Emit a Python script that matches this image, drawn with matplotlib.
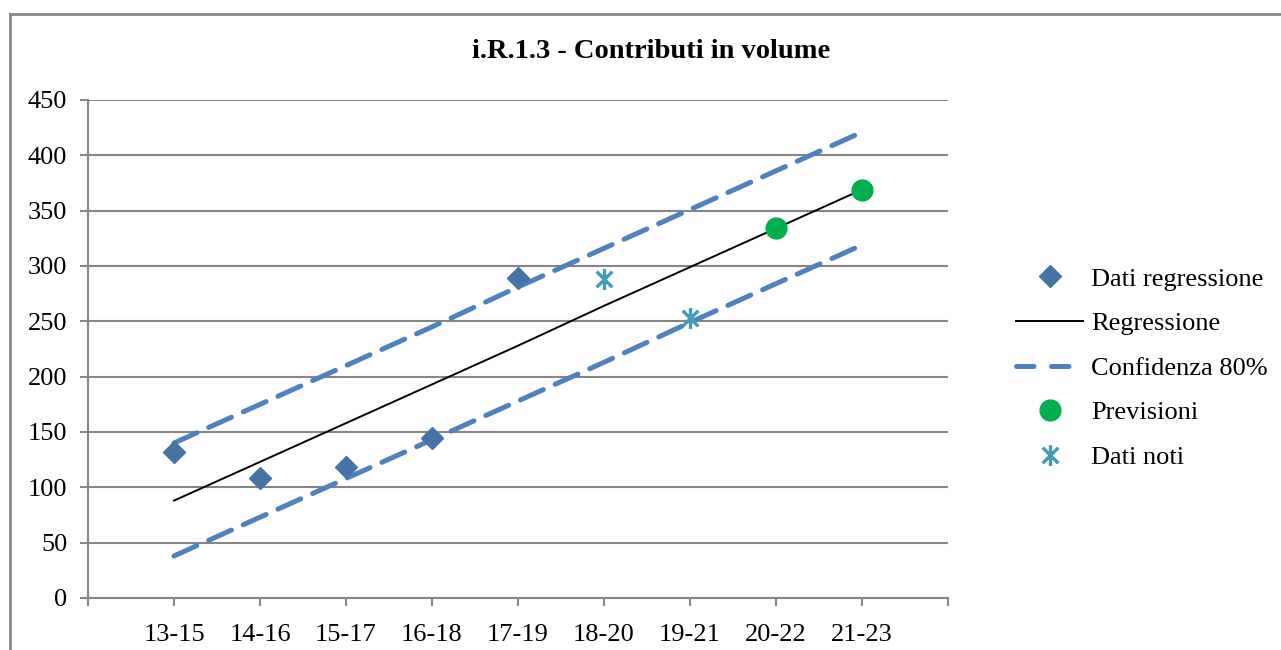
import matplotlib.pyplot as plt
from matplotlib.path import Path
from matplotlib.lines import Line2D
import numpy as np

plt.rcParams['font.family'] = ['Liberation Serif', 'DejaVu Serif']

periods = ['13-15', '14-16', '15-17', '16-18', '17-19', '18-20', '19-21', '20-22', '21-23']

# dati usati per la regressione (13-15 .. 17-19)
reg_data = [132, 108, 118, 145, 289]
regression = [88, 123, 158, 193, 228, 264, 299, 334, 369]
conf_high = [140, 175, 210, 245, 281, 316, 351, 386, 421]
conf_low = [38, 73, 108, 143, 178, 213, 249, 284, 319]
# previsioni (20-22, 21-23)
forecast = [334, 369]
# dati noti (18-20, 19-21)
known = [288, 253]

x = np.arange(1, len(periods) + 1)

# asterisco stile Excel: linea verticale + X
star = Path([(0, -1), (0, 1), (-0.75, -0.75), (0.75, 0.75), (-0.75, 0.75), (0.75, -0.75)],
            [Path.MOVETO, Path.LINETO, Path.MOVETO, Path.LINETO, Path.MOVETO, Path.LINETO])

fig = plt.figure(figsize=(12.81, 6.5), dpi=100)
ax = fig.add_axes([88 / 1281, 1 - 598 / 650, (948 - 88) / 1281, (598 - 100) / 650])

blue = '#4F81BD'
dia = '#4572A7'
green = '#00B050'
teal = '#3F9DB5'
ax.plot(x, conf_high, color=blue, lw=3.6, dashes=(5, 2.6), dash_capstyle='round', zorder=3)
ax.plot(x, conf_low, color=blue, lw=3.6, dashes=(5, 2.6), dash_capstyle='round', zorder=3)
ax.plot(x, regression, color='black', lw=1.4, zorder=4)
ax.plot(x[:5], reg_data, 'D', color=dia, ms=11.5, ls='none', zorder=5)
ax.plot(x[7:], forecast, 'o', color=green, ms=15, ls='none', zorder=5)
ax.plot(x[5:7], known, marker=star, color=teal, ms=15, mew=2.4, ls='none', zorder=5)

ax.set_xlim(0, 10)
ax.set_ylim(0, 450)
ax.set_yticks(range(0, 451, 50))
ax.set_xticks(range(0, 11))
ax.set_xticklabels([''] + periods + [''])
ax.tick_params(axis='both', labelsize=19, color='#868686', length=6, width=1.5)
ax.tick_params(axis='y', pad=9)
ax.tick_params(axis='x', pad=13)
ax.grid(axis='y', color='#868686', lw=1.5)
ax.set_axisbelow(True)
for s in ['top', 'right']:
    ax.spines[s].set_visible(False)
for s in ['left', 'bottom']:
    ax.spines[s].set_color('#868686')
    ax.spines[s].set_linewidth(1.5)

fig.text(651 / 1281, 1 - 52 / 650, 'i.R.1.3 - Contributi in volume', ha='center', va='center',
         fontsize=20.5, fontweight='bold')

handles = [
    Line2D([], [], marker='D', color=dia, ms=11.5, ls='none'),
    Line2D([], [], color='black', lw=1.4),
    Line2D([], [], color=blue, lw=3.6, dashes=(3.5, 3.5), dash_capstyle='round'),
    Line2D([], [], marker='o', color=green, ms=15, ls='none'),
    Line2D([], [], marker=star, color=teal, ms=15, mew=2.4, ls='none'),
]
labels = ['Dati regressione', 'Regressione', 'Confidenza 80%', 'Previsioni', 'Dati noti']
fig.legend(handles, labels, loc='center left', bbox_to_anchor=(1016 / 1281, 1 - 368 / 650),
           frameon=False, fontsize=19, handlelength=2.55, handletextpad=0.3, labelspacing=0.8,
           borderpad=0, borderaxespad=0)

# bordo dell'area del grafico
fig.add_artist(Line2D([10 / 1281, 10 / 1281], [0, 1 - 14 / 650], transform=fig.transFigure,
                      color='#868686', lw=2))
fig.add_artist(Line2D([10 / 1281, 1], [1 - 14 / 650, 1 - 14 / 650], transform=fig.transFigure,
                      color='#868686', lw=2))

fig.savefig('out.png', dpi=100)
